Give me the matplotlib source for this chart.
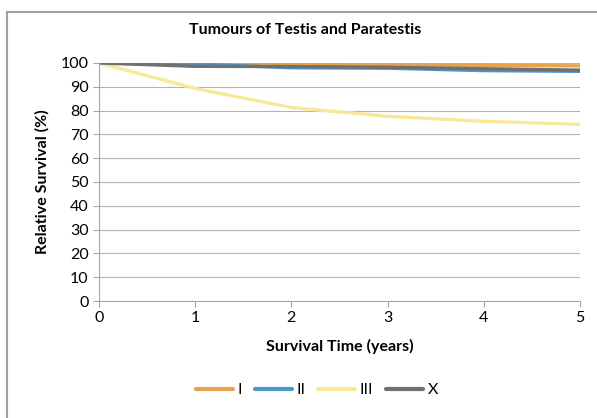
import numpy as np
import matplotlib.pyplot as plt
from matplotlib.patches import Rectangle

plt.rcParams['font.family'] = ['Lato', 'DejaVu Sans']

years = [0, 1, 2, 3, 4, 5]
stage_I = [100, 99.5, 99.3, 99.2, 99.0, 98.8]
stage_II = [100, 99.6, 98.0, 97.8, 96.8, 96.5]
stage_III = [100, 89.3, 81.3, 77.6, 75.5, 74.2]
stage_X = [100, 98.6, 98.5, 98.2, 97.6, 97.0]

series = [('I', stage_I, '#E8A24E'),
          ('II', stage_II, '#4A96C8'),
          ('III', stage_III, '#F8E898'),
          ('X', stage_X, '#707070')]

fig = plt.figure(figsize=(5.97, 4.18), dpi=100)
ax = fig.add_axes([0.1658, 0.2799, 0.8057, 0.5694])

# frame around the chart (cut by the image edge)
fig.add_artist(Rectangle((7 / 597, -0.1), 1.2, 1 - 12 / 418 + 0.1, transform=fig.transFigure,
                         fill=False, edgecolor='#A0A0A0', linewidth=1.5))

for name, vals, col in series:
    ax.plot(years, vals, color=col, linewidth=2.4, label=name)

ax.set_xlim(0, 5)
ax.set_ylim(0, 100)
ax.set_yticks(np.arange(0, 101, 10))
ax.set_xticks(years)
ax.grid(axis='y', color='#B4B4B4', linewidth=0.8)
ax.set_axisbelow(True)
for s in ['top', 'right']:
    ax.spines[s].set_visible(False)
for s in ['left', 'bottom']:
    ax.spines[s].set_color('#A6A6A6')
ax.tick_params(axis='both', colors='#A6A6A6', labelcolor='black', labelsize=11.5, length=4)

fig.text(305 / 597, 1 - 30 / 418, 'Tumours of Testis and Paratestis', fontsize=11.5,
         fontweight='bold', ha='center', va='center')
ax.set_xlabel('Survival Time (years)', fontsize=11.5, fontweight='bold', labelpad=10)
ax.set_ylabel('Relative Survival (%)', fontsize=11.5, fontweight='bold', labelpad=8)

fig.legend(loc='center', bbox_to_anchor=(317 / 597, 1 - 390 / 418), ncol=4, frameon=False,
           fontsize=11.5, handlelength=2.3, columnspacing=0.8, handletextpad=0.3)
for line in fig.legends[0].get_lines():
    line.set_linewidth(3)
    line.set_solid_capstyle('round')

fig.savefig('out.png', dpi=100)
